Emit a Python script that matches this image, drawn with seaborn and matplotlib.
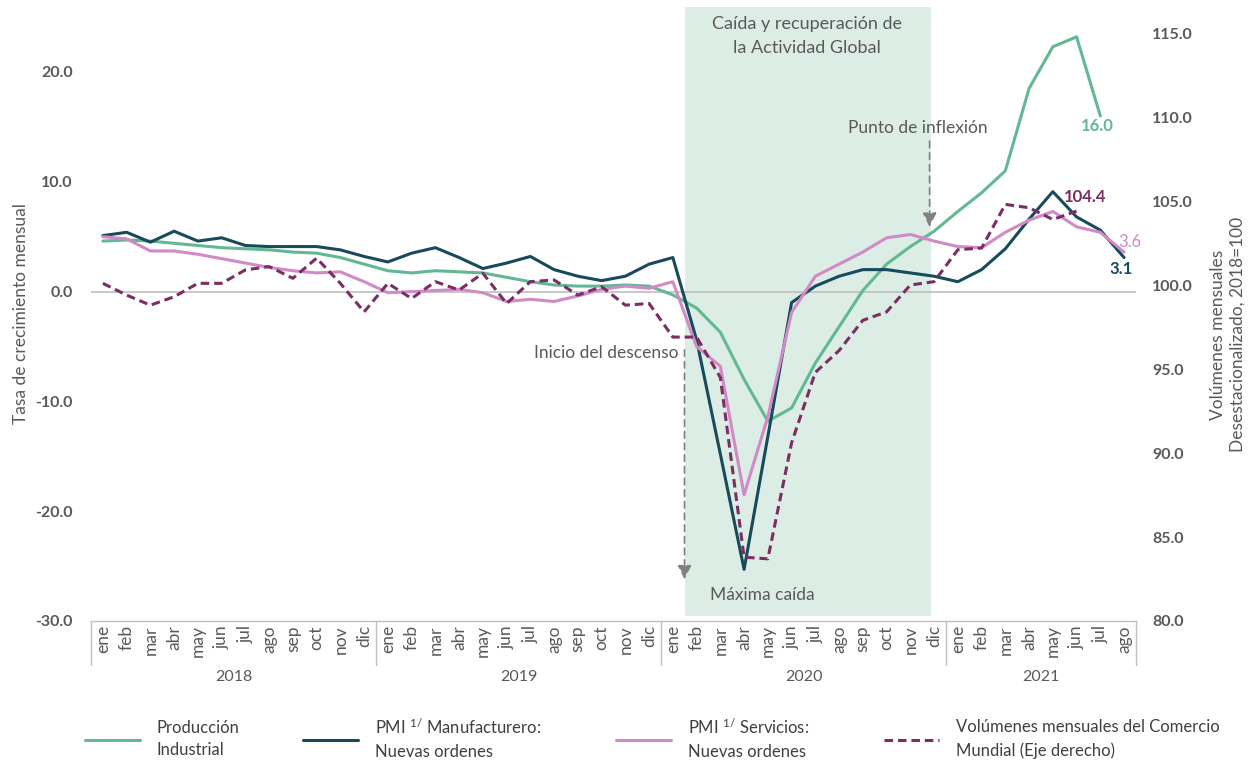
import matplotlib
matplotlib.use('Agg')
import matplotlib.pyplot as plt
import matplotlib.transforms as mtransforms
import pandas as pd
import seaborn as sns

# ── datos ──
MESES = ['ene', 'feb', 'mar', 'abr', 'may', 'jun', 'jul', 'ago', 'sep', 'oct', 'nov', 'dic']
ANIOS = ['2018', '2019', '2020', '2021']
meses = MESES * 3 + MESES[:8]

# Tasa de crecimiento mensual (eje izquierdo), ene-2018 .. jul-2021
prod_industrial = [
    4.6, 4.7, 4.6, 4.4, 4.2, 4.0, 3.9, 3.8, 3.6, 3.5, 3.1, 2.5,
    1.9, 1.7, 1.9, 1.8, 1.7, 1.3, 0.9, 0.6, 0.5, 0.5, 0.6, 0.5,
    -0.3, -1.5, -3.7, -8.0, -11.8, -10.6, -6.5, -3.2, 0.1, 2.5, 4.1, 5.5,
    7.3, 9.0, 11.0, 18.5, 22.3, 23.2, 16.0,
]
# ene-2018 .. ago-2021
pmi_manufacturero = [
    5.1, 5.4, 4.5, 5.5, 4.6, 4.9, 4.2, 4.1, 4.1, 4.1, 3.8, 3.2,
    2.7, 3.5, 4.0, 3.1, 2.1, 2.6, 3.2, 2.0, 1.4, 1.0, 1.4, 2.5,
    3.1, -4.4, -14.8, -25.3, -13.2, -1.0, 0.5, 1.4, 2.0, 2.0, 1.7, 1.4,
    0.9, 2.0, 3.9, 6.6, 9.1, 6.8, 5.6, 3.1,
]
pmi_servicios = [
    5.0, 4.8, 3.7, 3.7, 3.4, 3.0, 2.6, 2.2, 1.9, 1.7, 1.8, 0.9,
    -0.1, 0.0, 0.1, 0.2, -0.1, -0.9, -0.7, -0.9, -0.4, 0.2, 0.5, 0.3,
    0.9, -5.0, -6.8, -18.5, -11.4, -1.9, 1.4, 2.5, 3.6, 4.9, 5.2, 4.6,
    4.1, 4.0, 5.4, 6.5, 7.3, 5.9, 5.4, 3.6,
]
# Volúmenes del comercio mundial (eje derecho, 2018=100), ene-2018 .. jun-2021
comercio_mundial = [
    100.1, 99.4, 98.8, 99.3, 100.1, 100.1, 100.9, 101.1, 100.4, 101.6, 100.1, 98.4,
    100.1, 99.2, 100.2, 99.7, 100.7, 98.9, 100.2, 100.3, 99.4, 99.9, 98.8, 98.9,
    96.9, 96.9, 94.5, 83.8, 83.7, 90.6, 94.8, 96.1, 97.9, 98.4, 100.0, 100.2,
    102.1, 102.2, 104.8, 104.6, 103.9, 104.4,
]

VERDE = '#62B893'
AZUL = '#174A5A'
ROSA = '#D08BC6'
MORADO = '#7B2D64'
SOMBRA = '#DCEDE6'
GRIS = '#595959'

sns.set_theme(style='white')
plt.rcParams['font.family'] = ['Lato', 'DejaVu Sans']
plt.rcParams['mathtext.default'] = 'regular'

fig = plt.figure(figsize=(12.57, 7.6), dpi=100)
ax = fig.add_axes([0.0724, 0.1829, 0.8313, 0.8079])
ax2 = ax.twinx()

# ── periodo sombreado ──
ax.axvspan(24.5, 34.85, ymin=0.008, ymax=1, color=SOMBRA, lw=0, zorder=0)
ax.axhline(0, color='#BFBFBF', lw=1.2, zorder=1)

idx = list(range(len(meses)))
sns.lineplot(x=idx[:len(prod_industrial)], y=prod_industrial, ax=ax, color=VERDE,
             lw=2.2, legend=False, label='Producción\nIndustrial')
sns.lineplot(x=idx[:len(pmi_manufacturero)], y=pmi_manufacturero, ax=ax, color=AZUL,
             lw=2.2, legend=False, label='PMI $^{1/}$ Manufacturero:\nNuevas ordenes')
sns.lineplot(x=idx[:len(pmi_servicios)], y=pmi_servicios, ax=ax, color=ROSA,
             lw=2.2, legend=False, label='PMI $^{1/}$ Servicios:\nNuevas ordenes')
sns.lineplot(x=idx[:len(comercio_mundial)], y=comercio_mundial, ax=ax2, color=MORADO,
             lw=2.2, ls=(0, (2.8, 1.6)), legend=False,
             label='Volúmenes mensuales del Comercio\nMundial (Eje derecho)')

# ── ejes ──
ax.set_xlim(-0.5, len(meses) - 0.5)
ax.set_ylim(-30, 25.92)
ax2.set_ylim(80, 116.55)

yt = [-30, -20, -10, 0, 10, 20]
ax.set_yticks(yt, labels=[f'{v:.1f}' for v in yt], fontweight='bold')
yt2 = [80, 85, 90, 95, 100, 105, 110, 115]
ax2.set_yticks(yt2, labels=[f'{v:.1f}' for v in yt2], fontweight='bold')
ax.tick_params(axis='y', labelsize=11.5, labelcolor=GRIS, length=0, pad=13)
ax2.tick_params(axis='y', labelsize=11.5, labelcolor=GRIS, length=0, pad=11.5)

ax.set_xticks(idx, labels=meses, rotation=90)
ax.tick_params(axis='x', labelsize=12.5, labelcolor=GRIS, length=0, pad=3)
ax.set_xlabel('')
ax2.set_xlabel('')

for a in (ax, ax2):
    for s in ('left', 'right', 'top'):
        a.spines[s].set_visible(False)
ax2.spines['bottom'].set_visible(False)
ax.spines['bottom'].set_color('#BFBFBF')
ax.spines['bottom'].set_linewidth(1.0)

ax.set_ylabel('Tasa de crecimiento mensual', fontsize=12.5, color=GRIS)
ax.yaxis.label.set_va('center')
ax.yaxis.set_label_coords(-0.067, 0.5)
ax2.set_ylabel('Volúmenes mensuales\nDesestacionalizado, 2018=100', fontsize=12.5,
               color=GRIS, multialignment='center', linespacing=1.3)
ax2.yaxis.label.set_va('center')
ax2.yaxis.set_label_coords(1.088, 0.466)

# caja de categorías: separadores de año y etiquetas
trans = mtransforms.blended_transform_factory(ax.transData, ax.transAxes)
limites = [-0.5, 11.5, 23.5, 35.5, len(meses) - 0.5]
for xb in limites:
    ax.plot([xb, xb], [0, -0.072], transform=trans, color='#BFBFBF', lw=1.0,
            clip_on=False)
for a0, a1, anio in zip(limites[:-1], limites[1:], ANIOS):
    ax.text((a0 + a1) / 2, -0.091, anio, transform=trans, ha='center', va='center',
            fontsize=11.5, color=GRIS)

# ── anotaciones ──
flecha = dict(arrowstyle='-|>,head_width=0.35,head_length=0.7', color='#808080',
              lw=1.2, ls=(0, (4, 3)), shrinkA=0, shrinkB=0)
ax.annotate('', xy=(24.49, -26.2), xytext=(24.49, -5.3), arrowprops=flecha)
ax.annotate('', xy=(34.81, 5.9), xytext=(34.81, 13.7), arrowprops=flecha)
ax.text(24.22, -5.56, 'Inicio del descenso', ha='right', va='center',
        fontsize=12.5, color=GRIS)
ax.text(27.76, -27.6, 'Máxima caída', ha='center', va='center', fontsize=12.5, color=GRIS)
ax.text(34.33, 14.94, 'Punto de inflexión', ha='center', va='center',
        fontsize=12.5, color=GRIS)
ax.text(29.65, 23.3, 'Caída y recuperación de\nla Actividad Global', ha='center',
        va='center', fontsize=13, color=GRIS, linespacing=1.6)

# etiquetas de último valor
ax.annotate(f'{prod_industrial[-1]:.1f}', xy=(len(prod_industrial) - 1, prod_industrial[-1]),
            xytext=(-14, -7), textcoords='offset points', ha='left', va='center',
            fontsize=12, fontweight='bold', color=VERDE)
ax2.annotate(f'{comercio_mundial[-1]:.1f}', xy=(len(comercio_mundial) - 1, comercio_mundial[-1]),
             xytext=(-9, 10), textcoords='offset points', ha='left', va='center',
             fontsize=12, fontweight='bold', color=MORADO)
ax.annotate(f'{pmi_servicios[-1]:.1f}', xy=(len(pmi_servicios) - 1, pmi_servicios[-1]),
            xytext=(-4, 7), textcoords='offset points', ha='left', va='center',
            fontsize=12, color=ROSA)
ax.annotate(f'{pmi_manufacturero[-1]:.1f}', xy=(len(pmi_manufacturero) - 1, pmi_manufacturero[-1]),
            xytext=(-2, -8), textcoords='offset points', ha='center', va='center',
            fontsize=12, fontweight='bold', color=AZUL)

# ── leyenda: una entrada por columna ──
handles, labels = ax.get_legend_handles_labels()
h2, l2 = ax2.get_legend_handles_labels()
handles += h2
labels += l2
x_leyenda = [85, 303, 616, 884]
for h, l, xp in zip(handles, labels, x_leyenda):
    leg = fig.legend(handles=[h], labels=[l], loc='center left',
                     bbox_to_anchor=(xp / 1257, 1 - 739 / 760), frameon=False,
                     borderpad=0, borderaxespad=0, handlelength=3.3, handletextpad=1.0,
                     fontsize=12, labelcolor='#404040')
    for t in leg.get_texts():
        t.set_linespacing(1.5)

fig.savefig('out.png', dpi=100)
plt.close(fig)
